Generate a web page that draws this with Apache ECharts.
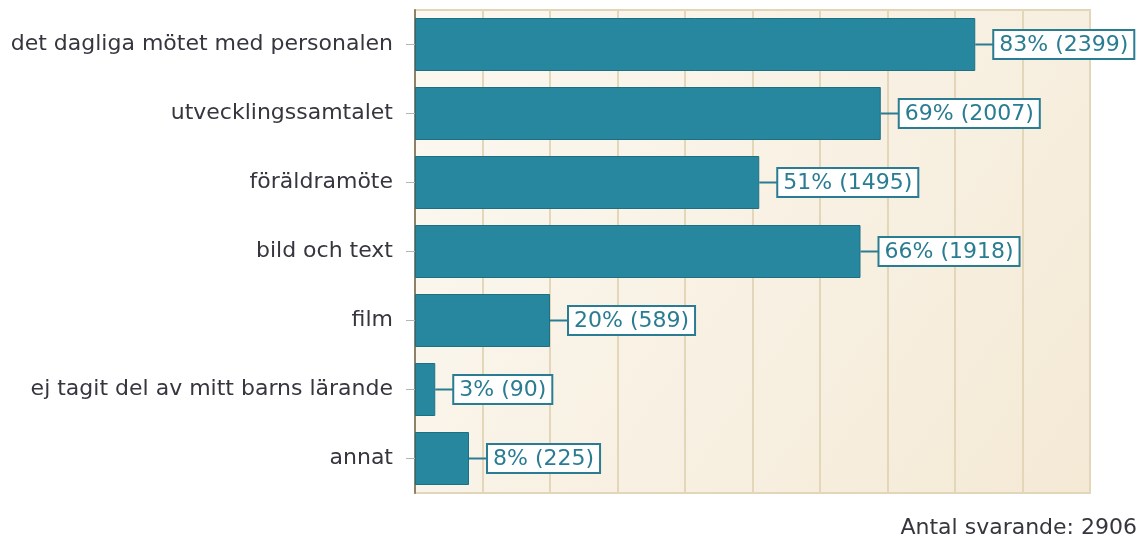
<!DOCTYPE html>
<html>
<head>
<meta charset="utf-8">
<script src="https://cdn.jsdelivr.net/npm/echarts@6/dist/echarts.min.js"></script>
<style>
html,body{margin:0;padding:0;background:#fff;}
#chart{width:1139px;height:541px;}
</style>
</head>
<body>
<div id="chart"></div>
<script>
const categories = [
  'det dagliga mötet med personalen',
  'utvecklingssamtalet',
  'föräldramöte',
  'bild och text',
  'film',
  'ej tagit del av mitt barns lärande',
  'annat'
];
const percents = [83, 69, 51, 66, 20, 3, 8];
const counts = [2399, 2007, 1495, 1918, 589, 90, 225];
const totalRespondents = 2906;
const axisTicks = [0, 10, 20, 30, 40, 50, 60, 70, 80, 90, 100];

const FONT = 'DejaVu Sans';
const TEAL = '#26879e';
const LABEL_TEAL = '#2a7c92';

const chart = echarts.init(document.getElementById('chart'));
chart.setOption({
  animation: false,
  textStyle: { fontFamily: FONT },
  grid: {
    left: 415, top: 10, right: 49, bottom: 48,
    show: true,
    borderColor: '#e3d6b8',
    borderWidth: 2,
    backgroundColor: {
      type: 'linear', x: 0, y: 0, x2: 1, y2: 1,
      colorStops: [
        { offset: 0, color: '#fcf9f2' },
        { offset: 1, color: '#f4e9d5' }
      ]
    }
  },
  xAxis: {
    type: 'value',
    min: axisTicks[0],
    max: axisTicks[axisTicks.length - 1],
    interval: axisTicks[1] - axisTicks[0],
    axisLabel: { show: false },
    axisLine: { show: false },
    axisTick: { show: false },
    splitLine: { show: true, lineStyle: { color: '#e4d6b8', width: 2 } }
  },
  yAxis: {
    type: 'category',
    data: categories,
    inverse: true,
    axisLine: { show: true, lineStyle: { color: '#8f8068', width: 2 } },
    axisTick: { show: true, alignWithLabel: true, length: 9, lineStyle: { color: '#b5b5b5', width: 1 } },
    axisLabel: {
      margin: 22,
      fontFamily: FONT,
      fontSize: 22,
      color: '#36363f'
    }
  },
  series: [{
    type: 'bar',
    data: percents,
    barWidth: 53,
    itemStyle: { color: TEAL, borderColor: '#1f6f83', borderWidth: 1 },
    label: {
      show: true,
      position: 'right',
      distance: 0,
      formatter: (p) => '{line|}{box|' + percents[p.dataIndex] + '% (' + counts[p.dataIndex] + ')}',
      rich: {
        line: { width: 19, height: 2, backgroundColor: LABEL_TEAL },
        box: {
          fontFamily: FONT,
          fontSize: 22,
          color: LABEL_TEAL,
          backgroundColor: '#ffffff',
          borderColor: LABEL_TEAL,
          borderWidth: 2,
          padding: [3, 5, 2, 5]
        }
      }
    }
  }],
  graphic: [{
    type: 'text',
    right: 2,
    top: 517,
    style: {
      text: 'Antal svarande: ' + totalRespondents,
      fontFamily: FONT,
      fontSize: 22,
      fill: '#36363f'
    }
  }]
});
</script>
</body>
</html>
